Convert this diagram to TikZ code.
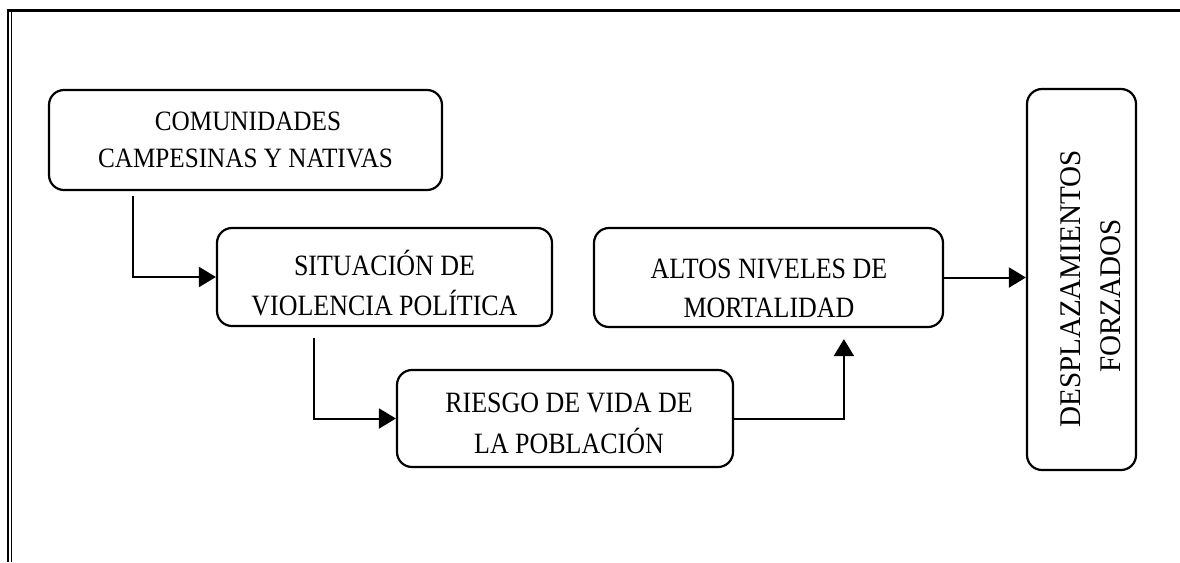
\documentclass[tikz,border=0pt]{standalone}
\usepackage{fontspec}
\setmainfont{Liberation Serif}
\newfontfamily\fntmain{Liberation Serif}[FakeStretch=0.88]
\newfontfamily\fnta{Liberation Serif}[FakeStretch=0.9]
\newfontfamily\fnte{Liberation Serif}[FakeStretch=0.97]
\usetikzlibrary{arrows.meta}
\tikzset{
  box/.style={draw, line width=2.2pt, rounded corners=15pt, inner sep=0pt},
  txt/.style={inner sep=0pt, anchor=base, font=\fntmain\fontsize{29.5}{30}\selectfont},
  txta/.style={inner sep=0pt, anchor=base, font=\fnta\fontsize{28}{30}\selectfont},
  txte/.style={inner sep=0pt, anchor=base, rotate=90, font=\fnte\fontsize{30}{30}\selectfont},
  arr/.style={line width=2pt, -{Triangle[length=17pt,width=20pt]}},
  frame/.style={line width=1.7pt}
}
\begin{document}
\begin{tikzpicture}[x=1pt,y=-1pt]
\useasboundingbox (0,0) rectangle (1180,562);
% frame
\draw[line width=3pt] (7,10.5) -- (1180,10.5);
\draw[frame] (8.2,9) -- (8.2,562);
\draw[frame] (11.5,9) -- (11.5,562);
% boxes
\node[box, minimum width=393pt, minimum height=100pt] (A) at (245.5,140) {};
\node[box, minimum width=335pt, minimum height=98pt] (B) at (384.5,277) {};
\node[box, minimum width=336pt, minimum height=97pt] (C) at (565,418.5) {};
\node[box, minimum width=349pt, minimum height=99pt] (D) at (768.5,277.5) {};
\node[box, minimum width=109pt, minimum height=381pt] (E) at (1081.5,279.5) {};
% texts
\node[txta] (A1) at (248,130) {COMUNIDADES};
\node[txta] (A2) at (245.5,167) {CAMPESINAS Y NATIVAS};
\node[txt] (B1) at (384.5,275) {SITUACIÓN DE};
\node[txt] (B2) at (384.5,315) {VIOLENCIA POLÍTICA};
\node[txt] (C1) at (569,412) {RIESGO DE VIDA DE};
\node[txt] (C2) at (569,453) {LA POBLACIÓN};
\node[txt] (D1) at (769,278) {ALTOS NIVELES DE};
\node[txt] (D2) at (769,317) {MORTALIDAD};
\node[txte] (E1) at (1080,289) {DESPLAZAMIENTOS};
\node[txte] (E2) at (1120,296) {FORZADOS};
% connectors
\draw[arr, shorten <=5pt] ([xshift=85pt]A.south west) |- (B.west);
\draw[arr, shorten <=11pt] ([xshift=98pt]B.south west) |- (C.west);
\draw[arr, shorten >=11pt] (C.east) -| ([xshift=251pt]D.south west);
\draw[arr] (D.east) -- (E.west |- D.east);
\end{tikzpicture}
\end{document}
